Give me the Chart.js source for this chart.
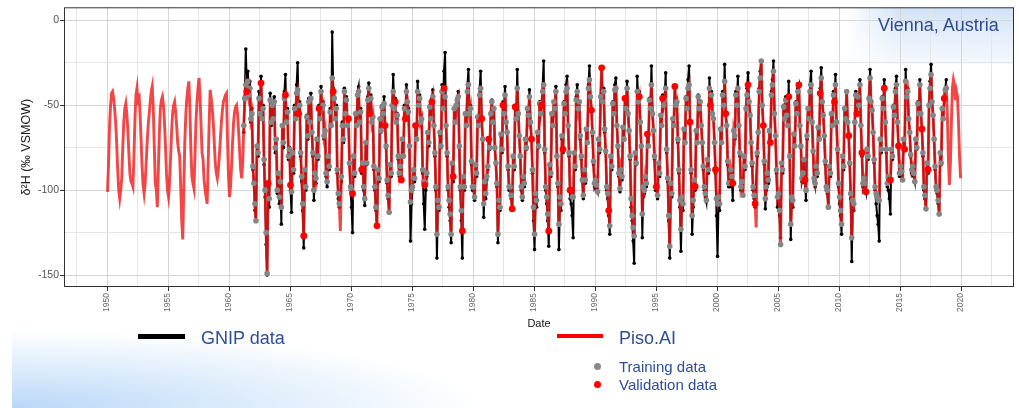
<!DOCTYPE html>
<html>
<head>
<meta charset="utf-8">
<script src="https://cdn.jsdelivr.net/npm/chart.js@4.4.1/dist/chart.umd.min.js"></script>
<style>
  html, body { margin: 0; padding: 0; }
  body {
    width: 1019px; height: 408px; position: relative; overflow: hidden;
    background: #fff;
    font-family: "Liberation Sans", Arial, sans-serif;
  }
  .swoosh {
    position: absolute; left: 12px; top: 318px; width: 520px; height: 90px;
    background: radial-gradient(ellipse 470px 78px at 0% 100%,
      rgba(186, 215, 247, 1) 0%, rgba(212, 231, 251, 0.8) 50%, rgba(255, 255, 255, 0) 100%);
  }
  .wrap { position: absolute; left: 0; top: 0; width: 1019px; height: 408px; }
  .lg { position: absolute; color: #2e4c9c; white-space: nowrap; }
  .big { font-size: 18px; line-height: 18px; }
  .small { font-size: 15px; line-height: 15px; }
  .bar { position: absolute; }
  .dot { position: absolute; width: 7px; height: 7px; border-radius: 50%; }
</style>
</head>
<body>
<div class="swoosh"></div>
<div class="wrap"><canvas id="chart" width="1019" height="408"></canvas></div>

<div class="lg big" style="left:878px; top:16px; color:#2f4a92;">Vienna, Austria</div>

<div class="bar" style="left:138px; top:334px; width:47px; height:5px; background:#000;"></div>
<div class="lg big" style="left:201px; top:329px;">GNIP data</div>
<div class="bar" style="left:557px; top:334px; width:46px; height:4px; background:#ff0000;"></div>
<div class="lg big" style="left:619px; top:329px;">Piso.AI</div>
<div class="dot" style="left:594px; top:363px; background:#8a8a8a;"></div>
<div class="lg small" style="left:619px; top:359px;">Training data</div>
<div class="dot" style="left:594px; top:381px; background:#ff0000;"></div>
<div class="lg small" style="left:619px; top:377px;">Validation data</div>

<script>
(function () {

  const FONT = '"Liberation Sans", Arial, sans-serif';

  /* ================================================================
   * DATA — monthly δ2H values (‰), Jan..Dec per row
   * ================================================================ */
  const pisoStartYear = 1950;
  const pisoValues = [
    -101, -85, -62, -50, -43, -42, -46, -52, -60, -72, -88, -100,   // 1950
    -105, -100, -93, -75, -60, -52, -49, -55, -65, -78, -90, -95,   // 1951
    -96, -98, -80, -58, -44, -40, -50, -43, -55, -70, -86, -97,     // 1952
    -102, -96, -84, -72, -62, -55, -48, -42, -39, -52, -74, -96,    // 1953
    -100, -110, -88, -66, -52, -47, -45, -50, -60, -74, -90, -100,  // 1954
    -104, -96, -82, -66, -55, -50, -48, -54, -62, -72, -77, -80,    // 1955
    -98, -118, -129, -100, -72, -56, -46, -40, -36, -52, -76, -92,  // 1956
    -96, -99, -80, -60, -48, -40, -34, -45, -62, -78, -82, -94,     // 1957
    -100, -104, -108, -84, -60, -41, -46, -52, -60, -72, -84, -90,  // 1958
    -93, -88, -80, -70, -60, -53, -48, -46, -44, -43, -70, -92,     // 1959
    -104, -98, -86, -72, -60, -54, -51, -50, -56, -66, -78, -88,    // 1960
    -93, -84, -62, -46, -38, -42, -36, -44, -40, -58, -55, -86,     // 1961
    -96, -108, -118, -74, -78, -46, -55, -37, -58, -52, -82, -100,  // 1962
    -125, -149, -96, -105, -47, -60, -50, -58, -48, -75, -70, -100, // 1963
    -90, -104, -95, -110, -62, -72, -46, -44, -60, -54, -80, -76,   // 1964
    -97, -101, -78, -88, -52, -58, -43, -41, -55, -50, -78, -92,    // 1965
    -108, -127, -88, -98, -57, -68, -48, -60, -46, -66, -78, -100,  // 1966
    -90, -93, -70, -80, -52, -58, -42, -52, -50, -68, -65, -90,     // 1967
    -95, -80, -86, -54, -62, -34, -42, -46, -58, -52, -88, -102,    // 1968
    -108, -124, -92, -62, -70, -42, -55, -47, -62, -58, -84, -98,   // 1969
    -100, -102, -80, -90, -55, -62, -44, -42, -60, -54, -88, -84,   // 1970
    -98, -105, -72, -84, -47, -40, -55, -46, -60, -57, -86, -98,    // 1971
    -110, -121, -88, -93, -58, -65, -51, -55, -49, -62, -74, -94,   // 1972
    -103, -113, -85, -90, -50, -42, -52, -48, -60, -56, -80, -90,   // 1973
    -86, -94, -70, -80, -52, -58, -42, -48, -54, -74, -107, -100,   // 1974
    -98, -88, -93, -62, -70, -42, -50, -46, -60, -58, -88, -95,     // 1975
    -97, -96, -90, -66, -72, -51, -58, -48, -45, -62, -78, -98,     // 1976
    -126, -106, -110, -66, -74, -42, -52, -40, -45, -62, -78, -98,  // 1977
    -106, -114, -126, -84, -92, -52, -60, -50, -47, -45, -74, -98,  // 1978
    -112, -124, -92, -98, -55, -62, -42, -38, -55, -52, -83, -98,   // 1979
    -98, -104, -85, -90, -57, -62, -44, -40, -58, -70, -108, -95,   // 1980
    -102, -92, -86, -70, -75, -55, -48, -60, -52, -75, -84, -96,    // 1981
    -126, -106, -110, -67, -76, -50, -55, -44, -60, -66, -86, -98,  // 1982
    -98, -103, -111, -80, -86, -51, -58, -40, -55, -68, -80, -98,   // 1983
    -104, -92, -96, -70, -75, -52, -56, -45, -60, -70, -88, -110,   // 1984
    -126, -102, -106, -66, -74, -49, -55, -50, -42, -38, -76, -98,  // 1985
    -104, -114, -124, -85, -90, -55, -62, -48, -52, -42, -80, -96,  // 1986
    -120, -104, -108, -68, -76, -49, -55, -42, -40, -62, -78, -100, // 1987
    -100, -104, -104, -78, -86, -47, -42, -52, -48, -68, -80, -94,  // 1988
    -103, -88, -94, -64, -72, -40, -35, -45, -53, -66, -83, -96,    // 1989
    -94, -97, -101, -70, -76, -45, -28, -48, -42, -64, -77, -98,    // 1990
    -102, -112, -121, -80, -86, -49, -55, -41, -40, -62, -74, -90,  // 1991
    -99, -88, -92, -63, -70, -46, -52, -40, -55, -65, -80, -105,    // 1992
    -115, -122, -127, -78, -84, -42, -48, -45, -60, -74, -114, -98, // 1993
    -100, -92, -96, -67, -74, -47, -52, -38, -55, -65, -80, -98,    // 1994
    -98, -103, -84, -90, -56, -62, -46, -50, -47, -40, -76, -93,    // 1995
    -115, -133, -96, -102, -58, -62, -39, -50, -48, -70, -88, -106, // 1996
    -123, -104, -108, -64, -72, -46, -52, -40, -38, -60, -88, -115, // 1997
    -106, -94, -98, -65, -72, -45, -52, -48, -62, -72, -86, -98,    // 1998
    -102, -106, -82, -88, -40, -50, -44, -55, -58, -72, -88, -105,  // 1999
    -108, -104, -108, -64, -72, -44, -50, -36, -55, -62, -83, -96,  // 2000
    -96, -88, -92, -96, -65, -68, -44, -50, -40, -62, -78, -98,     // 2001
    -95, -103, -80, -86, -52, -44, -38, -48, -56, -72, -84, -98,    // 2002
    -103, -108, -122, -78, -66, -42, -34, -24, -50, -62, -83, -105, // 2003
    -98, -90, -94, -65, -72, -44, -38, -30, -55, -68, -88, -104,    // 2004
    -102, -112, -132, -84, -88, -51, -58, -47, -56, -62, -45, -80,  // 2005
    -120, -104, -106, -67, -74, -49, -55, -42, -38, -62, -74, -93,  // 2006
    -90, -82, -94, -100, -68, -52, -58, -42, -38, -60, -77, -93,    // 2007
    -96, -86, -90, -63, -70, -43, -34, -48, -56, -68, -83, -98,     // 2008
    -100, -110, -86, -90, -55, -62, -44, -48, -38, -60, -76, -96,   // 2009
    -104, -112, -120, -80, -86, -52, -58, -42, -60, -68, -84, -102, // 2010
    -128, -106, -108, -60, -44, -55, -45, -50, -38, -62, -78, -96,  // 2011
    -93, -96, -101, -76, -80, -46, -34, -48, -53, -66, -82, -98,    // 2012
    -102, -104, -106, -106, -70, -76, -46, -52, -40, -60, -76, -96, // 2013
    -92, -93, -94, -76, -80, -51, -56, -42, -38, -60, -74, -90,     // 2014
    -86, -89, -94, -70, -76, -36, -45, -42, -58, -66, -79, -88,     // 2015
    -86, -90, -95, -70, -75, -49, -55, -38, -55, -64, -78, -98,     // 2016
    -103, -111, -84, -88, -50, -40, -32, -48, -56, -70, -86, -98,   // 2017
    -100, -106, -114, -78, -84, -52, -58, -46, -41, -40, -55, -80,  // 2018
    -97, -85, -60, -40, -35, -38, -47, -42, -45, -60, -80, -93      // 2019
  ];

  const gnipStartYear = 1961;
  const gnipValues = [
    null, null, -66, -45, -17, -38, -30, -42, -36, -60, -52, -88,   // 1961
    -95, -112, -118, -74, -80, -42, -55, -33, -58, -50, -85, -104,  // 1962
    -132, -150, -98, -110, -43, -62, -48, -58, -45, -78, -70, -102, // 1963
    -90, -108, -96, -120, -62, -75, -42, -32, -60, -52, -82, -75,   // 1964
    -100, -113, -78, -90, -50, -58, -38, -25, -55, -48, -80, -95,   // 1965
    -112, -134, -88, -100, -56, -70, -46, -60, -43, -66, -80, -106, // 1966
    -90, -96, -70, -82, -50, -58, -39, -52, -48, -70, -65, -92,     // 1967
    -98, -80, -88, -52, -62, -7, -40, -45, -58, -50, -90, -105,     // 1968
    -110, null, -95, -60, -72, -40, -55, -45, -62, -58, -85, -100,  // 1969
    -110, -125, -80, -92, -55, -62, -42, -39, -60, -52, -90, -84,   // 1970
    -100, -109, -72, -85, -45, -37, -55, -44, -60, -56, -88, -100,  // 1971
    -112, -121, -88, -95, -58, -66, -50, -55, -45, -62, -75, -96,   // 1972
    -105, -113, -85, -92, -50, -32, -52, -46, -60, -55, -82, -92,   // 1973
    -86, -94, -70, -80, -50, -58, -38, -48, -52, -75, -130, -108,   // 1974
    -100, -88, -95, -62, -70, -36, -50, -44, -60, -58, -90, -108,   // 1975
    -123, -100, -92, -66, -74, -50, -58, -46, -41, -62, -80, -100,  // 1976
    -140, -108, -112, -68, -75, -38, -52, -30, -19, -62, -80, -100, // 1977
    -110, -118, -131, -85, -95, -52, -60, -50, -46, -42, -75, -100, // 1978
    -118, -140, -92, -100, -55, -62, -38, -29, -55, -50, -85, -100, // 1979
    -100, -106, -85, -92, -58, -62, -40, -30, -58, -70, -116, -95,  // 1980
    -105, -94, -88, -70, -76, -55, -47, -60, -52, -76, -85, -98,    // 1981
    -131, -108, -112, -68, -78, -48, -55, -39, -60, -66, -88, -100, // 1982
    -100, -105, -111, -80, -88, -50, -58, -29, -55, -68, -80, -100, // 1983
    -106, -92, -98, -70, -76, -52, -56, -41, -60, -70, -90, -118,   // 1984
    -135, -104, -110, -68, -75, -48, -55, -50, -38, -24, -78, -100, // 1985
    -108, -118, -133, -86, -92, -55, -62, -48, -52, -39, -80, -98,  // 1986
    -135, -106, -112, -70, -78, -48, -55, -38, -33, -62, -80, -105, // 1987
    -108, -115, -128, -78, -88, -45, -38, -52, -48, -70, -82, -95,  // 1988
    -105, -88, -96, -65, -72, -38, -27, -45, -52, -68, -85, -98,    // 1989
    -96, -99, -101, -70, -78, -45, -28, -48, -40, -66, -78, -100,   // 1990
    -105, -115, -126, -80, -88, -48, -55, -38, -34, -62, -75, -92,  // 1991
    -101, -88, -94, -64, -70, -45, -52, -36, -55, -65, -82, -110,   // 1992
    -118, -130, -143, -78, -85, -33, -48, -42, -60, -75, -128, -100, // 1993
    -102, -92, -98, -68, -74, -46, -52, -27, -55, -65, -82, -100,   // 1994
    -100, -105, -84, -92, -56, -62, -44, -50, -45, -31, -78, -95,   // 1995
    -118, -140, -96, -104, -58, -62, -39, -50, -48, -72, -90, -110, // 1996
    -136, -106, -112, -65, -72, -45, -52, -35, -27, -60, -90, -126, // 1997
    -110, -94, -100, -66, -72, -44, -52, -48, -62, -72, -88, -100,  // 1998
    -104, -107, -82, -90, -34, -50, -42, -55, -58, -72, -90, -115,  // 1999
    -139, -106, -112, -65, -72, -42, -50, -26, -55, -62, -85, -98,  // 2000
    -98, -88, -94, -106, -65, -70, -42, -50, -33, -62, -80, -100,   // 2001
    -96, -103, -80, -88, -52, -40, -31, -48, -55, -72, -86, -100,   // 2002
    -105, -110, null, -80, -66, -40, -30, -24, -50, -62, -85, -111, // 2003
    -100, -90, -96, -66, -72, -42, -35, -24, -55, -68, -90, -110,   // 2004
    -105, -115, -128, -84, -90, -50, -58, -45, -55, -62, -36, -80,  // 2005
    -129, -104, -110, -68, -74, -48, -55, -40, -38, -62, -75, -95,  // 2006
    -92, -82, -96, -106, -70, -52, -58, -38, -30, -60, -78, -95,    // 2007
    -98, -86, -92, -64, -70, -40, -28, -48, -55, -68, -85, -100,    // 2008
    -102, -110, -86, -92, -55, -62, -42, -48, -32, -60, -78, -98,   // 2009
    -108, -115, -126, -80, -88, -52, -58, -42, -60, -68, -85, -105, // 2010
    -142, -108, -112, -60, -42, -55, -44, -50, -35, -62, -80, -98,  // 2011
    -95, -98, -101, -76, -82, -45, -29, -48, -52, -66, -84, -100,   // 2012
    -108, -115, -120, -130, -70, -78, -45, -52, -35, -60, -78, -98, // 2013
    -100, -105, -114, -76, -82, -50, -56, -40, -33, -60, -75, -92,  // 2014
    -88, -90, -94, -70, -76, -29, -45, -40, -58, -66, -80, -90,     // 2015
    -88, -92, -95, -70, -76, -48, -55, -35, -55, -64, -80, -100,    // 2016
    -105, -111, -84, -90, -50, -36, -26, -48, -56, -70, -88, -100,  // 2017
    -102, -108, -114, -78, -85, -52, -58, -45, -40, -35, null, null // 2018
  ];

  // GNIP months held out for validation (the rest were used for training)
  const validationMonths = [
    '1961-06', '1962-08', '1963-03', '1964-08', '1965-01', '1965-09', '1966-02', '1967-05',
    '1968-07', '1969-10', '1970-02', '1970-11', '1971-07', '1972-02', '1972-10', '1973-08',
    '1974-02', '1974-06', '1975-04', '1976-01', '1976-08', '1977-08', '1978-05', '1979-02',
    '1980-09', '1981-04', '1982-06', '1983-03', '1983-06', '1984-10', '1985-08', '1986-03',
    '1987-05', '1987-12', '1988-01', '1989-09', '1990-07', '1991-02', '1992-06', '1993-08',
    '1994-04', '1995-01', '1995-07', '1996-07', '1997-10', '1998-03', '1999-06', '1999-11',
    '2000-09', '2001-04', '2002-07', '2003-02', '2003-10', '2004-05', '2005-11', '2006-09',
    '2007-03', '2008-06', '2009-08', '2010-10', '2011-06', '2011-11', '2012-03', '2013-09',
    '2014-03', '2014-11', '2015-05', '2016-10', '2017-04', '2018-08'
  ];

  const xTicks = [1947.5, 1950, 1952.5, 1955, 1957.5, 1960, 1962.5, 1965, 1967.5, 1970,
    1972.5, 1975, 1977.5, 1980, 1982.5, 1985, 1987.5, 1990, 1992.5, 1995, 1997.5, 2000,
    2002.5, 2005, 2007.5, 2010, 2012.5, 2015, 2017.5, 2020, 2022.5];
  const yTicks = [-150, -125, -100, -75, -50, -25, 0];


  /* ================================================================
   * Build the point lists (decimal year at the middle of each month)
   * ================================================================ */
  const monthX = (start, i) => start + (i + 0.5) / 12;
  const monthKey = (start, i) =>
    (start + Math.floor(i / 12)) + '-' + String(i % 12 + 1).padStart(2, '0');

  const pisoPoints = pisoValues.map((v, i) => ({ x: monthX(pisoStartYear, i), y: v }));
  const gnipPoints = gnipValues.map((v, i) => ({ x: monthX(gnipStartYear, i), y: v }));

  const validSet = new Set(validationMonths);
  const trainingPoints = [];
  const validationPoints = [];
  const offset = (gnipStartYear - pisoStartYear) * 12;
  gnipValues.forEach((v, i) => {
    if (v === null) return;
    const pt = { x: monthX(gnipStartYear, i), y: pisoValues[offset + i] };
    (validSet.has(monthKey(gnipStartYear, i)) ? validationPoints : trainingPoints).push(pt);
  });


  /* ================================================================
   * Panel: white background, label box, dark border
   * ================================================================ */
  const panel = {
    id: 'panel',
    beforeDraw(chart) {
      const { ctx, chartArea: a } = chart;
      ctx.save();
      ctx.fillStyle = '#fff';
      ctx.fillRect(a.left, a.top, a.right - a.left, a.bottom - a.top);
      const g = ctx.createLinearGradient(0, a.top, 0, a.top + 57);
      g.addColorStop(0, 'rgba(208, 226, 246, 1)');
      g.addColorStop(1, 'rgba(236, 243, 252, 0.6)');
      ctx.fillStyle = g;
      ctx.fillRect(845, a.top, a.right - 845, 57);
      const h = ctx.createLinearGradient(845, 0, 900, 0);
      h.addColorStop(0, 'rgba(255,255,255,1)');
      h.addColorStop(1, 'rgba(255,255,255,0)');
      ctx.fillStyle = h;
      ctx.fillRect(845, a.top, 55, 57);
      ctx.restore();
    },
    afterDraw(chart) {
      const { ctx, chartArea: a } = chart;
      ctx.save();
      ctx.strokeStyle = '#333';
      ctx.lineWidth = 1;
      ctx.strokeRect(a.left + 0.5, a.top + 0.5, a.right - a.left - 1, a.bottom - a.top - 1);
      ctx.restore();
    }
  };

  new Chart(document.getElementById('chart'), {
    type: 'line',
    data: {
      datasets: [
        {
          label: 'Validation data', data: validationPoints, showLine: false, order: 0,
          pointRadius: 3.4, pointBackgroundColor: '#ff0000', pointBorderWidth: 0, borderColor: '#ff0000'
        },
        {
          label: 'Training data', data: trainingPoints, showLine: false, order: 1,
          pointRadius: 2.8, pointBackgroundColor: '#858585', pointBorderWidth: 0, borderColor: '#858585'
        },
        {
          label: 'Piso.AI', data: pisoPoints, order: 2,
          borderColor: 'rgba(240, 24, 24, 0.8)', borderWidth: 2.9, pointRadius: 0, tension: 0
        },
        {
          label: 'GNIP data', data: gnipPoints, order: 3, spanGaps: true,
          borderColor: '#000', borderWidth: 2, tension: 0,
          pointRadius: 1.8, pointBackgroundColor: '#000', pointBorderWidth: 0
        }
      ]
    },
    options: {
      responsive: false,
      animation: false,
      events: [],
      layout: { padding: { left: 0, right: 5, top: 6, bottom: 76 } },
      plugins: { legend: { display: false }, tooltip: { enabled: false } },
      scales: {
        x: {
          type: 'linear',
          min: 1946.475,
          max: 2024.34,
          afterBuildTicks: s => { s.ticks = xTicks.map(v => ({ value: v })); },
          afterFit: s => { s.height = 45; },
          ticks: {
            autoSkip: false, minRotation: 90, maxRotation: 90, padding: 2,
            color: '#666', font: { family: FONT, size: 8.5 },
            callback: v => (v % 5 === 0 ? String(v) : '')
          },
          grid: {
            color: c => (c.tick && c.tick.value % 5 === 0 ? '#d6d6d6' : '#e6e6e6'),
            tickColor: c => (c.tick && c.tick.value % 5 === 0 ? '#333' : 'rgba(0,0,0,0)'),
            tickLength: 4, lineWidth: 1
          },
          border: { display: false },
          title: {
            display: true, text: 'Date', color: '#111',
            font: { family: FONT, size: 11 }, padding: { top: 0, bottom: 1 }
          }
        },
        y: {
          type: 'linear',
          min: -157.0,
          max: 7.6,
          afterBuildTicks: s => { s.ticks = yTicks.map(v => ({ value: v })); },
          afterFit: s => { s.width = 64; },
          ticks: {
            padding: 1, color: '#555', font: { family: FONT, size: 10.5 },
            callback: v => (v % 50 === 0 ? String(v) : '')
          },
          grid: {
            color: c => (c.tick && c.tick.value % 50 === 0 ? '#d6d6d6' : '#e6e6e6'),
            tickColor: c => (c.tick && c.tick.value % 50 === 0 ? '#333' : 'rgba(0,0,0,0)'),
            tickLength: 4, lineWidth: 1
          },
          border: { display: false },
          title: {
            display: true, text: 'δ²H (‰ VSMOW)', color: '#1a1a1a',
            font: { family: FONT, size: 12.5 }, padding: { top: 19, bottom: 0 }
          }
        }
      }
    },
    plugins: [panel]
  });

})();
</script>
</body>
</html>
